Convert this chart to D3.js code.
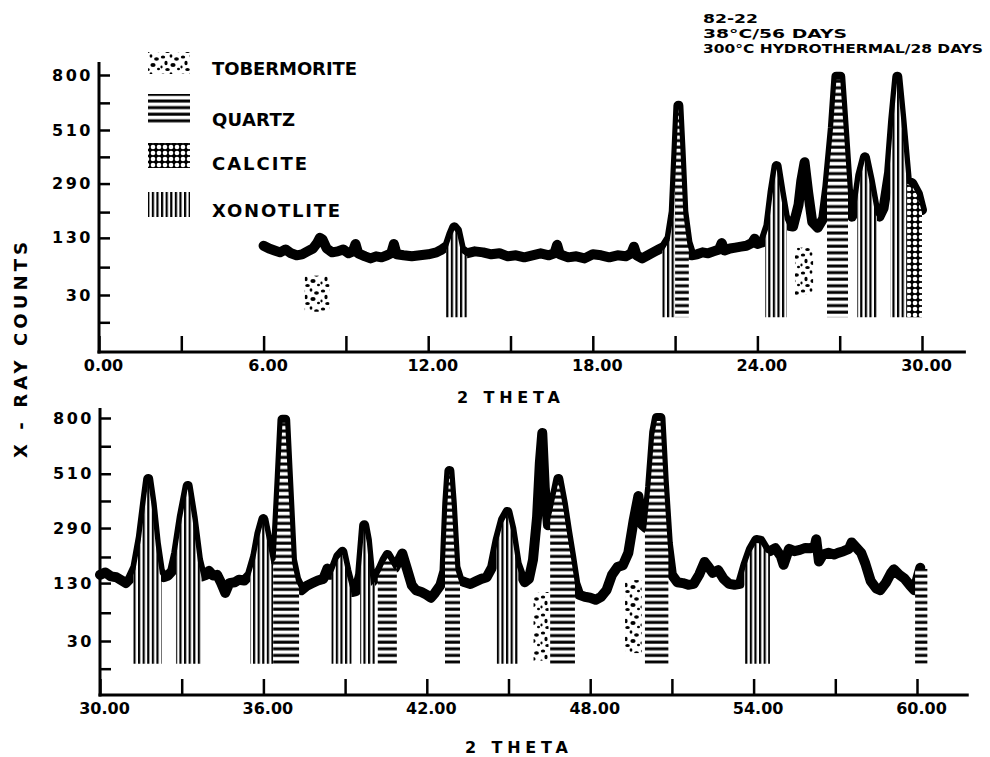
<!DOCTYPE html>
<html>
<head>
<meta charset="utf-8">
<script src="https://cdn.jsdelivr.net/npm/d3@7"></script>
<style>
body{margin:0;background:#fff;}
text{font-family:"DejaVu Sans",sans-serif;font-weight:bold;fill:#000;}
</style>
</head>
<body>
<div id="chart"></div>
<script>
// scan: [2 theta, counts]
var topScan = [[6.0,112],[6.2,106],[6.4,102],[6.6,98],[6.8,104],[7.0,96],[7.2,92],[7.4,94],[7.6,100],[7.8,106],[7.95,118],[8.05,130],[8.15,126],[8.3,106],[8.5,98],[8.7,100],[8.9,104],[9.1,96],[9.25,100],[9.35,116],[9.45,96],[9.7,90],[9.9,86],[10.1,90],[10.3,88],[10.5,92],[10.65,96],[10.75,116],[10.85,94],[11.1,92],[11.4,90],[11.7,92],[12.0,94],[12.3,98],[12.5,104],[12.7,112],[12.85,140],[12.95,156],[13.05,148],[13.2,104],[13.4,96],[13.7,100],[14.0,98],[14.3,94],[14.6,96],[14.9,90],[15.2,92],[15.5,88],[15.8,92],[16.1,96],[16.4,92],[16.6,96],[16.7,114],[16.8,94],[17.1,88],[17.4,90],[17.7,86],[18.0,94],[18.3,92],[18.6,88],[18.9,92],[19.2,90],[19.4,96],[19.5,110],[19.6,92],[19.8,86],[20.0,92],[20.2,98],[20.4,104],[20.6,110],[20.8,130],[20.95,200],[21.05,420],[21.12,630],[21.2,420],[21.3,200],[21.45,120],[21.6,92],[21.8,94],[22.0,98],[22.2,96],[22.4,100],[22.6,104],[22.7,118],[22.8,102],[23.0,106],[23.2,108],[23.4,110],[23.6,112],[23.8,118],[23.9,128],[24.0,116],[24.2,120],[24.4,160],[24.55,260],[24.7,355],[24.85,260],[25.0,185],[25.15,160],[25.3,158],[25.5,220],[25.6,300],[25.72,370],[25.85,260],[26.0,170],[26.2,155],[26.4,180],[26.55,280],[26.75,520],[26.88,790],[27.02,790],[27.15,520],[27.3,270],[27.45,185],[27.6,220],[27.75,320],[27.92,390],[28.1,300],[28.3,200],[28.45,185],[28.6,210],[28.8,330],[28.95,560],[29.1,790],[29.25,560],[29.45,300],[29.65,290],[29.85,255],[30.0,204]];

var bottomScan = [[30.0,150],[30.2,156],[30.4,146],[30.6,144],[30.8,136],[30.95,130],[31.1,140],[31.3,170],[31.5,260],[31.65,380],[31.77,486],[31.9,380],[32.05,240],[32.2,160],[32.35,144],[32.5,148],[32.65,160],[32.8,210],[33.0,330],[33.22,455],[33.4,330],[33.6,190],[33.75,146],[33.9,150],[34.0,160],[34.15,148],[34.3,150],[34.45,130],[34.6,108],[34.75,130],[34.95,132],[35.1,138],[35.3,136],[35.5,150],[35.7,200],[35.85,270],[36.0,322],[36.15,250],[36.3,185],[36.45,200],[36.6,500],[36.7,790],[36.8,790],[36.9,500],[37.05,190],[37.2,140],[37.4,114],[37.6,124],[37.8,130],[38.0,136],[38.2,140],[38.35,166],[38.45,150],[38.6,170],[38.75,200],[38.9,213],[39.05,160],[39.25,110],[39.4,112],[39.55,150],[39.7,300],[39.8,250],[39.95,130],[40.1,140],[40.3,165],[40.45,190],[40.56,204],[40.7,185],[40.83,168],[40.95,185],[41.1,208],[41.25,170],[41.45,125],[41.6,114],[41.8,110],[42.0,104],[42.15,98],[42.3,108],[42.5,125],[42.65,160],[42.75,380],[42.83,523],[42.92,380],[43.05,170],[43.2,137],[43.4,132],[43.6,128],[43.8,134],[44.0,140],[44.2,144],[44.4,170],[44.6,250],[44.8,320],[44.96,349],[45.1,290],[45.3,180],[45.45,150],[45.6,132],[45.75,140],[45.9,190],[46.05,330],[46.15,560],[46.24,715],[46.33,450],[46.45,300],[46.6,360],[46.83,486],[47.0,380],[47.15,280],[47.3,200],[47.45,130],[47.6,104],[47.8,100],[48.0,98],[48.2,94],[48.4,100],[48.6,114],[48.8,150],[49.0,170],[49.2,175],[49.4,210],[49.6,320],[49.77,412],[49.92,300],[50.05,290],[50.2,450],[50.35,720],[50.45,800],[50.58,800],[50.7,480],[50.85,240],[51.0,150],[51.2,132],[51.4,130],[51.6,126],[51.8,128],[52.0,150],[52.2,184],[52.35,170],[52.5,155],[52.7,162],[52.9,140],[53.1,128],[53.3,126],[53.5,128],[53.7,176],[53.9,220],[54.1,250],[54.25,248],[54.45,220],[54.6,215],[54.8,224],[55.0,200],[55.1,176],[55.3,222],[55.5,215],[55.7,219],[55.9,225],[56.1,224],[56.25,232],[56.3,252],[56.4,185],[56.55,205],[56.75,210],[56.95,205],[57.1,210],[57.3,215],[57.5,222],[57.6,242],[57.75,228],[57.95,210],[58.1,180],[58.3,135],[58.5,118],[58.65,114],[58.85,130],[59.05,155],[59.15,164],[59.35,150],[59.55,140],[59.75,124],[59.9,114],[60.05,150],[60.12,168]];

// phase bands: 2 theta range, optional count range (otherwise filled up to the scan)
var topPhases = [
  {phase:"tobermorite", from:7.5, to:8.4, lo:14, hi:56},
  {phase:"xonotlite", from:12.65, to:13.42},
  {phase:"xonotlite", from:20.53, to:21.0},
  {phase:"quartz", from:21.0, to:21.5},
  {phase:"xonotlite", from:24.28, to:25.08},
  {phase:"tobermorite", from:25.37, to:26.03, lo:30, hi:108},
  {phase:"quartz", from:26.54, to:27.3},
  {phase:"xonotlite", from:27.63, to:28.36},
  {phase:"xonotlite", from:28.84, to:29.46},
  {phase:"calcite", from:29.46, to:30.0}
];
var bottomPhases = [
  {phase:"xonotlite", from:31.22, to:32.26},
  {phase:"xonotlite", from:32.79, to:33.73},
  {phase:"xonotlite", from:35.51, to:36.36},
  {phase:"quartz", from:36.36, to:37.31},
  {phase:"xonotlite", from:38.5, to:39.24},
  {phase:"xonotlite", from:39.55, to:40.1},
  {phase:"quartz", from:40.2, to:40.9},
  {phase:"quartz", from:42.67, to:43.22},
  {phase:"xonotlite", from:44.56, to:45.36},
  {phase:"tobermorite", from:45.92, to:46.47, lo:12, hi:110},
  {phase:"quartz", from:46.53, to:47.44},
  {phase:"tobermorite", from:49.28, to:49.89, lo:18, hi:137},
  {phase:"quartz", from:50.01, to:50.87},
  {phase:"xonotlite", from:53.66, to:54.6},
  {phase:"quartz", from:59.93, to:60.38, lo:10, hi:165}
];
var barFloor = 10;

var legendPhases = ["tobermorite","quartz","calcite","xonotlite"];
var legendLabels = ["TOBERMORITE","QUARTZ","CALCITE","XONOTLITE"];

var yTickValues = [800, 510, 290, 130, 30];
var yMinorTicks = [645, 392, 198, 70, 7];
var topXTicks = [0, 6, 12, 18, 24, 30];
var topXMinor = [3, 9, 15, 21, 27];
var bottomXTicks = [30, 36, 42, 48, 54, 60];
var bottomXMinor = [33, 39, 45, 51, 57];

var titleLines = ["82-22", "38\u00B0C/56 DAYS", "300\u00B0C HYDROTHERMAL/28 DAYS"];

var W = 990, H = 757;
var svg = d3.select("#chart").append("svg").attr("width", W).attr("height", H);
var defs = svg.append("defs");

// hatch patterns
var pq = defs.append("pattern").attr("id","p-quartz").attr("patternUnits","userSpaceOnUse")
  .attr("width",10).attr("height",6.6);
pq.append("rect").attr("width",10).attr("height",6.6).attr("fill","#fff");
pq.append("rect").attr("y",0.5).attr("width",10).attr("height",3).attr("fill","#000");

var px = defs.append("pattern").attr("id","p-xonotlite").attr("patternUnits","userSpaceOnUse")
  .attr("width",4.6).attr("height",10);
px.append("rect").attr("width",4.6).attr("height",10).attr("fill","#fff");
px.append("rect").attr("x",0).attr("width",2.2).attr("height",10).attr("fill","#000");

var pc = defs.append("pattern").attr("id","p-calcite").attr("patternUnits","userSpaceOnUse")
  .attr("width",6).attr("height",6);
pc.append("rect").attr("width",6).attr("height",6).attr("fill","#000");
pc.append("circle").attr("cx",3).attr("cy",3).attr("r",2.3).attr("fill","#fff");

var pt = defs.append("pattern").attr("id","p-tobermorite").attr("patternUnits","userSpaceOnUse")
  .attr("width",20).attr("height",18);
pt.append("rect").attr("width",20).attr("height",18).attr("fill","#fff");
[[3,3,2.2,1.5],[11,2,1.4,1.8],[16.5,5,2.4,1.8],[6,9,1.6,2.3],[13,11,2.6,1.9],[18.5,15,1.5,1.3],[7.5,15.5,2.3,1.6],[1.5,13,1.1,1.4]]
  .forEach(function(b){
    pt.append("ellipse").attr("cx",b[0]).attr("cy",b[1]).attr("rx",b[2]).attr("ry",b[3]).attr("fill","#000");
  });

function drawPanel(cfg){
  var x = d3.scaleLinear().domain(cfg.xDomain).range(cfg.xRange);
  var y = d3.scaleSqrt().domain([30, 800]).range(cfg.yRange);
  var g = svg.append("g");

  // axes
  var xAxis = d3.axisBottom(x)
    .tickValues(cfg.xTicks.concat(cfg.xMinor))
    .tickFormat(function(d){ return cfg.xTicks.indexOf(d) >= 0 ? d.toFixed(2) : ""; })
    .tickSize(-16).tickSizeOuter(0).tickPadding(8);
  var gx = g.append("g").attr("transform","translate(0,"+cfg.axisY+")").call(xAxis);
  gx.select(".domain").remove();
  gx.selectAll(".tick line").attr("stroke","#000").attr("stroke-width",2.5);
  gx.selectAll(".tick text").attr("font-size",16).attr("dx",4).style("font-family","DejaVu Sans").style("font-weight","bold");

  var yAxis = d3.axisLeft(y)
    .tickValues(yTickValues.concat(yMinorTicks))
    .tickFormat(function(d){ return yTickValues.indexOf(d) >= 0 ? d : ""; })
    .tickSize(-11).tickSizeOuter(0).tickPadding(6);
  var gy = g.append("g").attr("transform","translate("+cfg.xRange[0]+",0)").call(yAxis);
  gy.select(".domain").remove();
  gy.selectAll(".tick line").attr("stroke","#000").attr("stroke-width",2.5);
  gy.selectAll(".tick text").attr("font-size",16).attr("letter-spacing",2.5)
    .style("font-family","DejaVu Sans").style("font-weight","bold");

  g.append("line").attr("x1",cfg.xRange[0]).attr("x2",cfg.xRange[0])
    .attr("y1",cfg.axisTop).attr("y2",cfg.axisY+1.5).attr("stroke","#000").attr("stroke-width",3);
  g.append("line").attr("x1",cfg.xRange[0]-1.5).attr("x2",x(cfg.xEnd))
    .attr("y1",cfg.axisY).attr("y2",cfg.axisY).attr("stroke","#000").attr("stroke-width",3);

  // scan trace
  var line = d3.line().x(function(d){ return x(d[0]); }).y(function(d){ return y(d[1]); });
  g.append("path").datum(cfg.scan).attr("d",line)
    .attr("fill","none").attr("stroke","#000").attr("stroke-width",10)
    .attr("stroke-linejoin","round").attr("stroke-linecap","round");

  // phase hatching, kept just under the upper half of the trace
  var area = d3.area().x(function(d){ return x(d[0]); })
    .y0(y(barFloor)).y1(function(d){ return y(d[1]) + 3; });
  cfg.phases.forEach(function(p, i){
    var fill = "url(#p-"+p.phase+")";
    if(p.hi !== undefined){
      g.append("rect").attr("x",x(p.from)).attr("width",x(p.to)-x(p.from))
        .attr("y",y(p.hi)).attr("height",y(p.lo)-y(p.hi)).attr("fill",fill);
    } else {
      var id = "clip-"+cfg.name+"-"+i;
      defs.append("clipPath").attr("id",id).append("rect")
        .attr("x",x(p.from)).attr("width",x(p.to)-x(p.from))
        .attr("y",0).attr("height",H);
      g.append("path").datum(cfg.scan).attr("d",area)
        .attr("fill",fill).attr("clip-path","url(#"+id+")");
    }
  });

  g.append("text").attr("x",cfg.thetaX).attr("y",cfg.thetaY)
    .attr("font-size",16).attr("textLength",103).attr("lengthAdjust","spacing")
    .text("2 THETA");
}

drawPanel({name:"top", scan:topScan, phases:topPhases,
  xDomain:[0,30], xRange:[99,922], yRange:[295,75], axisY:352, axisTop:62, xEnd:31.6,
  xTicks:topXTicks, xMinor:topXMinor, thetaX:457, thetaY:403});
drawPanel({name:"bottom", scan:bottomScan, phases:bottomPhases,
  xDomain:[30,60], xRange:[100,917], yRange:[641,418], axisY:695, axisTop:408, xEnd:61.9,
  xTicks:bottomXTicks, xMinor:bottomXMinor, thetaX:465, thetaY:753});

// legend
var swatchY = [52, 94, 143, 192], swatchH = [22, 31, 25, 25], labelY = [75, 126, 170, 217];
var leg = svg.append("g");
legendPhases.forEach(function(p, i){
  leg.append("rect").attr("x",148).attr("y",swatchY[i]).attr("width",42).attr("height",swatchH[i])
    .attr("fill","url(#p-"+p+")");
  leg.append("text").attr("x",212).attr("y",labelY[i]).attr("font-size",18)
    .attr("textLength",[145,83,95,128][i]).attr("lengthAdjust","spacing")
    .text(legendLabels[i]);
});

// y title
svg.append("text").attr("transform","translate(27,350) rotate(-90)")
  .attr("text-anchor","middle").attr("font-size",18)
  .attr("textLength",216).attr("lengthAdjust","spacing")
  .text("X - RAY  COUNTS");

// sample notes
var tl = svg.append("g");
titleLines.forEach(function(t, i){
  tl.append("text").attr("x",703).attr("y",23+i*15).attr("font-size",12.5)
    .attr("textLength",[55,144,280][i]).attr("lengthAdjust","spacingAndGlyphs")
    .text(t);
});
</script>
</body>
</html>
